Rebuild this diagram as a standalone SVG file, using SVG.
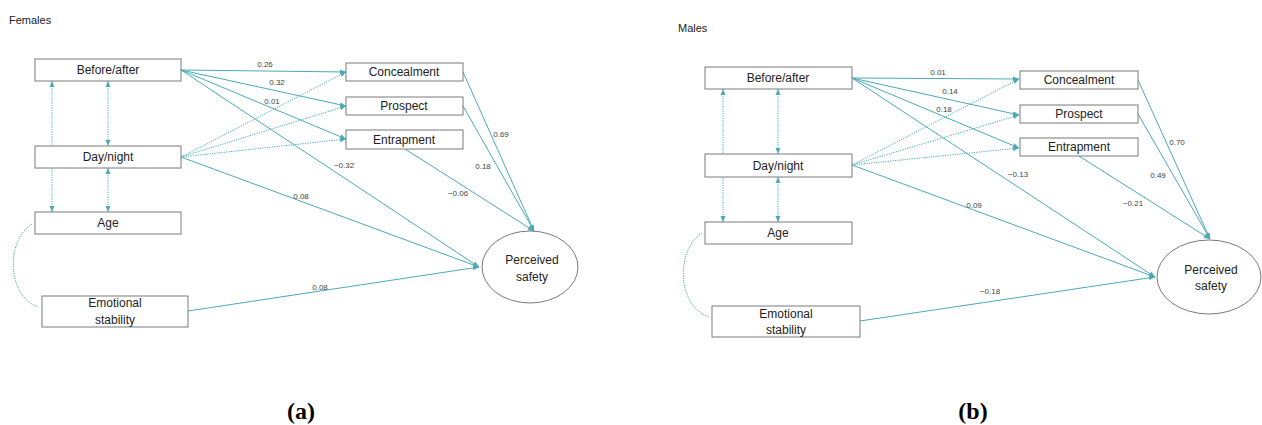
<svg xmlns="http://www.w3.org/2000/svg" width="1262" height="425" viewBox="0 0 1262 425">
<style>
.box{fill:#fff;stroke:#7a7a7a;stroke-width:1}
.lbl{font-family:"Liberation Sans",Arial,sans-serif;font-size:12px;fill:#222;text-anchor:middle}
.num{font-family:"Liberation Sans",Arial,sans-serif;font-size:8px;fill:#444;text-anchor:middle}
.title{font-family:"Liberation Sans",Arial,sans-serif;font-size:11px;fill:#222}
.cap{font-family:"Liberation Serif","Times New Roman",serif;font-size:24px;font-weight:bold;fill:#000;text-anchor:middle}
.ln{fill:none;stroke:#4BAAB5;stroke-width:1}
.arr{marker-end:url(#ah)}
.dot{stroke-dasharray:1.2 1.2}
.dbl{marker-start:url(#ah);marker-end:url(#ah)}
</style>
<defs>
<marker id="ah" markerUnits="userSpaceOnUse" markerWidth="6" markerHeight="6" refX="6" refY="3" orient="auto-start-reverse" viewBox="0 0 6 6">
<path d="M0,0.5 L6,3 L0,5.5 z" fill="#4BAAB5"/>
</marker>
</defs>
<rect width="1262" height="425" fill="#fff"/>
<text class="title" x="9" y="24">Females</text>
<text class="title" x="678" y="32">Males</text>

<g id="connectors-a">
<path class="ln arr" d="M181,70 L346,72"/>
<path class="ln arr" d="M181,70 L346,106"/>
<path class="ln arr" d="M181,70 L346,139"/>
<path class="ln arr" d="M181,70 L479,267"/>
<path class="ln arr dot" d="M181,157 L346,72"/>
<path class="ln arr dot" d="M181,157 L346,106"/>
<path class="ln arr dot" d="M181,157 L346,139"/>
<path class="ln arr" d="M181,157 L479,267"/>
<path class="ln arr" d="M188,311 L479,267"/>
<path class="ln arr" d="M463,72 L534,231"/>
<path class="ln arr" d="M463,106 L534,231"/>
<path class="ln arr" d="M405,149 L534,231"/>
<path class="ln dbl dot" d="M52,81 L52,212"/>
<path class="ln dbl dot" d="M108,81 L108,146"/>
<path class="ln dbl dot" d="M108,168 L108,212"/>
<path class="ln dot" d="M32,224 C6,240 6,295 38,307"/>
<text class="num" x="265" y="67">0.26</text>
<text class="num" x="277" y="85">0.32</text>
<text class="num" x="272" y="104">0.01</text>
<text class="num" x="344" y="168">−0.32</text>
<text class="num" x="301" y="199">0.08</text>
<text class="num" x="320" y="290">0.08</text>
<text class="num" x="501" y="137">0.69</text>
<text class="num" x="483" y="169">0.18</text>
<text class="num" x="458" y="196">−0.06</text>
</g>

<g id="a-before-after"><rect class="box" x="35" y="59" width="146" height="22"/><text class="lbl" x="108" y="74">Before/after</text></g>
<g id="a-day-night"><rect class="box" x="35" y="146" width="146" height="22"/><text class="lbl" x="108" y="161">Day/night</text></g>
<g id="a-age"><rect class="box" x="35" y="212" width="146" height="22"/><text class="lbl" x="108" y="227">Age</text></g>
<g id="a-emotional"><rect class="box" x="42" y="296" width="146" height="31"/><text class="lbl" x="115" y="307">Emotional</text><text class="lbl" x="115" y="324">stability</text></g>
<g id="a-concealment"><rect class="box" x="346" y="63" width="117" height="18"/><text class="lbl" x="404" y="76">Concealment</text></g>
<g id="a-prospect"><rect class="box" x="346" y="97" width="117" height="18"/><text class="lbl" x="404" y="110">Prospect</text></g>
<g id="a-entrapment"><rect class="box" x="346" y="130" width="117" height="19"/><text class="lbl" x="404" y="144">Entrapment</text></g>
<g id="a-perceived"><ellipse class="box" cx="530" cy="267" rx="48" ry="36"/><text class="lbl" x="532" y="264">Perceived</text><text class="lbl" x="532" y="281">safety</text></g>

<g id="connectors-b">
<path class="ln arr" d="M852,78 L1019,79"/>
<path class="ln arr" d="M852,78 L1019,115"/>
<path class="ln arr" d="M852,78 L1019,148"/>
<path class="ln arr" d="M852,78 L1155,277"/>
<path class="ln arr dot" d="M852,165 L1019,79"/>
<path class="ln arr dot" d="M852,165 L1019,115"/>
<path class="ln arr dot" d="M852,165 L1019,148"/>
<path class="ln arr" d="M852,165 L1155,277"/>
<path class="ln arr" d="M860,321 L1155,277"/>
<path class="ln arr" d="M1138,80 L1210,239"/>
<path class="ln arr" d="M1138,114 L1210,239"/>
<path class="ln arr" d="M1079,156 L1210,239"/>
<path class="ln dbl dot" d="M723,89 L723,222"/>
<path class="ln dbl dot" d="M778,89 L778,154"/>
<path class="ln dbl dot" d="M778,177 L778,222"/>
<path class="ln dot" d="M702,233 C676,250 676,305 709,317"/>
<text class="num" x="938" y="75">0.01</text>
<text class="num" x="950" y="94">0.14</text>
<text class="num" x="944" y="112">0.18</text>
<text class="num" x="1018" y="177">−0.13</text>
<text class="num" x="974" y="208">0.09</text>
<text class="num" x="990" y="294">−0.18</text>
<text class="num" x="1177" y="145">0.70</text>
<text class="num" x="1158" y="178">0.49</text>
<text class="num" x="1133" y="206">−0.21</text>
</g>

<g id="b-before-after"><rect class="box" x="705" y="67" width="147" height="22"/><text class="lbl" x="778" y="82">Before/after</text></g>
<g id="b-day-night"><rect class="box" x="705" y="154" width="147" height="23"/><text class="lbl" x="778" y="170">Day/night</text></g>
<g id="b-age"><rect class="box" x="705" y="222" width="147" height="22"/><text class="lbl" x="778" y="237">Age</text></g>
<g id="b-emotional"><rect class="box" x="712" y="306" width="148" height="31"/><text class="lbl" x="786" y="318">Emotional</text><text class="lbl" x="786" y="334">stability</text></g>
<g id="b-concealment"><rect class="box" x="1020" y="71" width="118" height="18"/><text class="lbl" x="1079" y="84">Concealment</text></g>
<g id="b-prospect"><rect class="box" x="1020" y="105" width="118" height="18"/><text class="lbl" x="1079" y="118">Prospect</text></g>
<g id="b-entrapment"><rect class="box" x="1020" y="138" width="118" height="18"/><text class="lbl" x="1079" y="151">Entrapment</text></g>
<g id="b-perceived"><ellipse class="box" cx="1209" cy="277" rx="52" ry="37"/><text class="lbl" x="1211" y="274">Perceived</text><text class="lbl" x="1211" y="290">safety</text></g>

<text class="cap" x="301" y="419">(a)</text>
<text class="cap" x="973" y="419">(b)</text>
</svg>
